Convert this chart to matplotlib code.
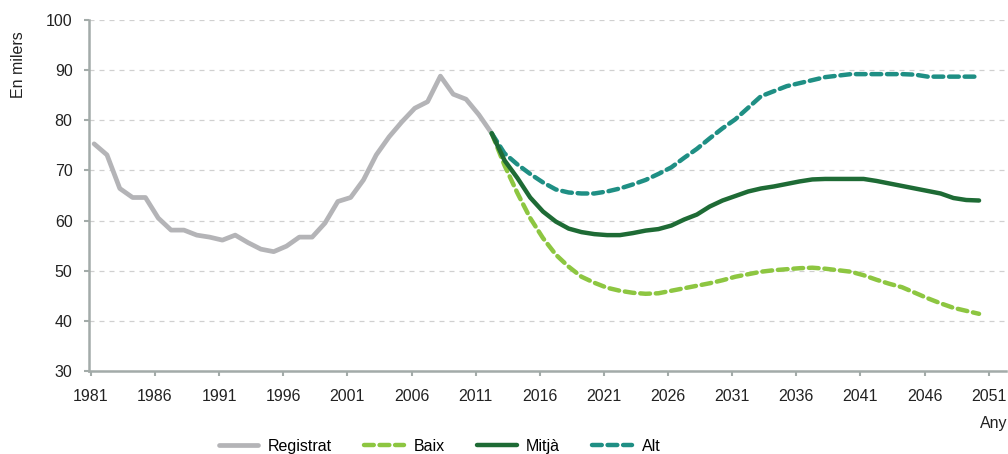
import matplotlib.pyplot as plt
import numpy as np

plt.rcParams['font.family'] = ['Liberation Sans', 'DejaVu Sans']

# registered data 1981-2012 (thousands)
reg_years = np.arange(1981, 2013)
registrat = [75.3, 73.1, 66.4, 64.6, 64.6, 60.5, 58.1, 58.1, 57.1, 56.7,
             56.1, 57.1, 55.6, 54.3, 53.8, 54.9, 56.7, 56.7, 59.5, 63.8,
             64.6, 68.1, 73.1, 76.7, 79.7, 82.4, 83.7, 88.8, 85.2, 84.2,
             81.1, 77.4]

# projections 2012-2050
proj_years = np.arange(2012, 2051)
baix = [77.4, 71.0, 65.5, 60.5, 56.5, 53.2, 50.8, 48.8, 47.6, 46.6,
        46.0, 45.6, 45.4, 45.5, 46.0, 46.5, 47.0, 47.5, 48.1, 48.8,
        49.3, 49.8, 50.1, 50.3, 50.5, 50.6, 50.4, 50.1, 49.8, 49.1,
        48.2, 47.4, 46.7, 45.6, 44.5, 43.5, 42.6, 42.0, 41.4]
mitja = [77.4, 72.0, 68.5, 64.6, 61.8, 59.8, 58.4, 57.7, 57.3, 57.1,
         57.1, 57.5, 58.0, 58.3, 59.0, 60.2, 61.2, 62.8, 64.0, 64.9,
         65.8, 66.4, 66.8, 67.3, 67.8, 68.2, 68.3, 68.3, 68.3, 68.3,
         67.9, 67.4, 66.9, 66.4, 65.9, 65.4, 64.5, 64.1, 64.0]
alt = [77.4, 73.4, 71.2, 69.3, 67.6, 66.2, 65.6, 65.4, 65.4, 65.8,
       66.4, 67.2, 68.1, 69.3, 70.6, 72.5, 74.3, 76.4, 78.4, 80.2,
       82.5, 84.8, 85.8, 86.8, 87.4, 88.0, 88.6, 88.9, 89.2, 89.2,
       89.2, 89.2, 89.2, 89.1, 88.7, 88.7, 88.7, 88.7, 88.7]

tick_years = list(range(1981, 2052, 5))
yticks = list(range(30, 101, 10))

fig = plt.figure(figsize=(10.08, 4.54), dpi=100)
ax = fig.add_axes([0.0883, 0.1828, 0.9097, 0.7732])

c_reg = '#b4b4b7'
c_baix = '#8dc641'
c_mitja = '#1e6b35'
c_alt = '#1f8f84'
fs = 11.5

ax.plot(reg_years, registrat, color=c_reg, lw=3.4, solid_capstyle='round',
        solid_joinstyle='round', label='Registrat', zorder=3)
ax.plot(proj_years, baix, color=c_baix, lw=3.2, ls=(0, (2.2, 1.3)),
        dash_capstyle='round', label='Baix', zorder=4)
ax.plot(proj_years, mitja, color=c_mitja, lw=3.2, solid_capstyle='round',
        label='Mitjà', zorder=5)
ax.plot(proj_years, alt, color=c_alt, lw=3.2, ls=(0, (2.2, 1.3)),
        dash_capstyle='round', label='Alt', zorder=4)

ax.set_ylim(30, 100)
ax.set_xlim(1980.6, 2052.1)
ax.set_yticks(yticks)
ax.set_xticks([t - 0.25 for t in tick_years])
ax.set_xticklabels([str(t) for t in tick_years])

ax.grid(axis='y', color='#d0d0d0', ls=(0, (4, 4)), lw=0.9)
ax.set_axisbelow(True)
for s in ['top', 'right']:
    ax.spines[s].set_visible(False)
for s in ['left', 'bottom']:
    ax.spines[s].set_color('#a3aba9')
    ax.spines[s].set_linewidth(1.8)
ax.tick_params(colors='#a3aba9', width=1.5, length=3.8, labelcolor='#222222',
               labelsize=fs)
ax.tick_params(axis='x', pad=9)
ax.tick_params(axis='y', pad=8)

fig.text(0.018, 0.857, 'En milers', rotation=90, ha='center', va='center',
         fontsize=fs, color='#222222')
fig.text(0.999, 0.068, 'Any', ha='right', va='center', fontsize=fs,
         color='#222222')

fig.legend(loc='center', bbox_to_anchor=(0.436, 0.017), ncol=4, frameon=False,
           fontsize=fs, handlelength=2.5, columnspacing=2.0,
           handletextpad=0.6)

fig.savefig('out.png', dpi=100)
